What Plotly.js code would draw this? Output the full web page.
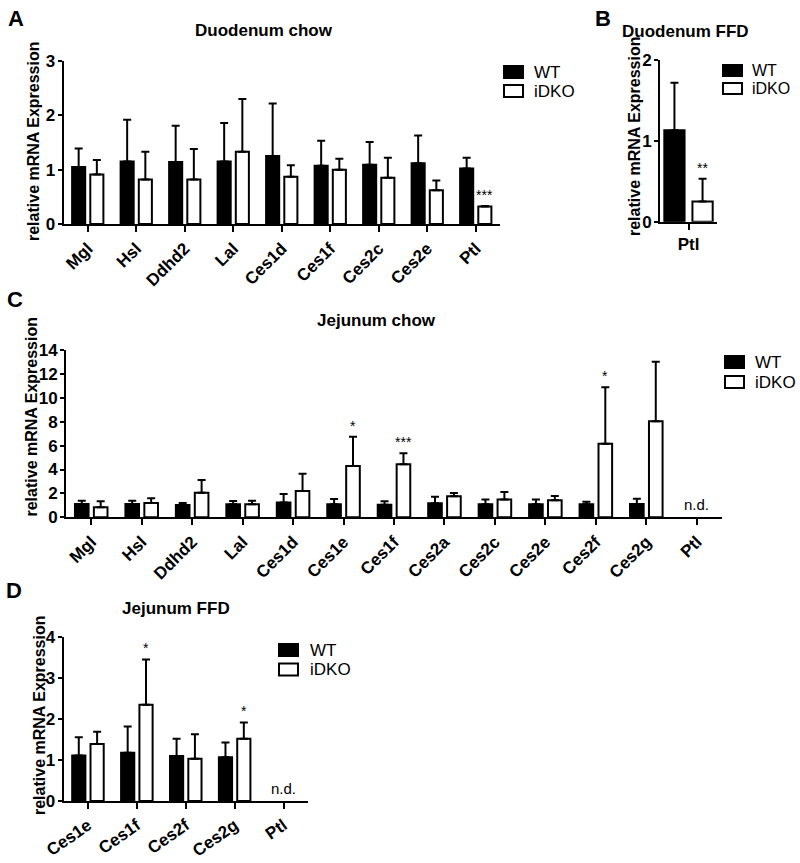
<!DOCTYPE html>
<html>
<head>
<meta charset="utf-8">
<script src="https://cdn.plot.ly/plotly-3.0.1.min.js"></script>
<style>html,body{margin:0;padding:0;background:#fff;}#chart{width:800px;height:863px;}</style>
</head>
<body>
<div id="chart"></div>
<script>
// ---------- DATA ----------
const catsA = ['Mgl','Hsl','Ddhd2','Lal','Ces1d','Ces1f','Ces2c','Ces2e','Ptl'];
const wtA = [1.05,1.15,1.14,1.15,1.25,1.07,1.09,1.12,1.02];
const wtErrA = [0.34,0.77,0.67,0.71,0.97,0.46,0.42,0.51,0.20];
const koA = [0.91,0.82,0.82,1.33,0.87,1.00,0.85,0.62,0.32];
const koErrA = [0.27,0.51,0.56,0.97,0.21,0.20,0.37,0.18,0.01];
const sigA = ['','','','','','','','','***'];

const catsB = ['Ptl'];
const wtB = [1.13];
const wtErrB = [0.59];
const koB = [0.25];
const koErrB = [0.28];
const sigB = ['**'];

const catsC = ['Mgl','Hsl','Ddhd2','Lal','Ces1d','Ces1e','Ces1f','Ces2a','Ces2c','Ces2e','Ces2f','Ces2g','Ptl'];
const wtC = [1.12,1.12,1.03,1.09,1.23,1.09,1.06,1.17,1.09,1.09,1.09,1.12,null];
const wtErrC = [0.27,0.27,0.17,0.28,0.72,0.44,0.28,0.56,0.39,0.39,0.22,0.44,null];
const koC = [0.84,1.20,2.06,1.09,2.20,4.29,4.43,1.76,1.48,1.42,6.16,8.03,null];
const koErrC = [0.50,0.39,1.06,0.30,1.45,2.46,0.92,0.28,0.64,0.36,4.72,4.99,null];
const sigC = ['','','','','','*','***','','','','*','',''];

const catsD = ['Ces1e','Ces1f','Ces2f','Ces2g','Ptl'];
const wtD = [1.11,1.18,1.10,1.07,null];
const wtErrD = [0.45,0.64,0.42,0.36,null];
const koD = [1.39,2.35,1.03,1.52,null];
const koErrD = [0.30,1.11,0.60,0.40,null];
const sigD = ['','*','','*',''];

const ndLabel = 'n.d.';
const groups = ['WT','iDKO'];
const groupFill = ['#000000','#ffffff'];
const titles = ['Duodenum chow','Duodenum FFD','Jejunum chow','Jejunum FFD'];
const letters = ['A','B','C','D'];
const yTitle = 'relative mRNA Expression';

// ---------- BUILD ----------
const FONT = 'Liberation Sans, Arial, sans-serif';
const W = 800, H = 863;
const px = v => v / W;
const py = v => 1 - v / H;

const panels = [
  {cats: catsA, wt: wtA, wtE: wtErrA, ko: koA, koE: koErrA, sig: sigA, ax: '', range: [0,3], dtick: 1,
   xd: [px(63.5), px(500)], yd: [py(224), py(61)], angle: -45, xr: null, nd: false, yfs: 16,
   yt: [34, 142], leg: {sx: 504, tx: 532, cy: [72, 91], h: 12}},
  {cats: catsB, wt: wtB, wtE: wtErrB, ko: koB, koE: koErrB, sig: sigB, ax: '2', range: [0,2], dtick: 1,
   xd: [px(660), px(717)], yd: [py(221.7), py(60)], angle: 0, xr: [-0.38,0.38], nd: false, yfs: 16,
   yt: [634, 137], leg: {sx: 723, tx: 750, cy: [70.5, 88.5], h: 11}},
  {cats: catsC, wt: wtC, wtE: wtErrC, ko: koC, koE: koErrC, sig: sigC, ax: '3', range: [0,14], dtick: 2,
   xd: [px(66), px(722)], yd: [py(517.3), py(350)], angle: -45, xr: null, nd: true, yfs: 16,
   yt: [30.5, 417], leg: {sx: 725, tx: 753, cy: [362, 382], h: 12}},
  {cats: catsD, wt: wtD, wtE: wtErrD, ko: koD, koE: koErrD, sig: sigD, ax: '4', range: [0,4], dtick: 1,
   xd: [px(63.5), px(308)], yd: [py(801), py(637.3)], angle: -35, xr: null, nd: true, yfs: 16,
   yt: [39, 716], leg: {sx: 279, tx: 308, cy: [650, 669.5], h: 12}}
];

const traces = [];
const layout = {
  width: W, height: H,
  margin: {l: 0, r: 0, t: 0, b: 0},
  paper_bgcolor: '#fff', plot_bgcolor: 'rgba(0,0,0,0)',
  barmode: 'group', bargap: 0.25, bargroupgap: 0.28,
  font: {family: FONT, color: '#000'},
  showlegend: false,
  annotations: [],
  shapes: [],
  hovermode: false
};

const titlePos = [[264, 31], [685, 32], [376, 320], [176, 608]];
const letterPos = [[16, 18], [603, 18], [15, 300], [14, 590]];

panels.forEach((p, k) => {
  const xa = 'x' + p.ax, ya = 'y' + p.ax;
  const errCommon = {type: 'data', symmetric: false, color: '#000', thickness: 2, width: 4};
  const vals = [p.wt, p.ko], errs = [p.wtE, p.koE];
  groups.forEach((g, gi) => {
    traces.push({
      type: 'bar', name: g, x: p.cats, y: vals[gi], xaxis: xa, yaxis: ya,
      marker: {color: groupFill[gi], line: {color: '#000', width: 2}},
      error_y: Object.assign({array: errs[gi], arrayminus: errs[gi].map(() => 0)}, errCommon),
      showlegend: false
    });
    // legend entry (drawn manually to match the compact original legend)
    layout.shapes.push({
      type: 'rect', xref: 'paper', yref: 'paper',
      x0: px(p.leg.sx), x1: px(p.leg.sx + 19),
      y0: py(p.leg.cy[gi] + p.leg.h / 2), y1: py(p.leg.cy[gi] - p.leg.h / 2),
      fillcolor: groupFill[gi], line: {color: '#000', width: 2}
    });
    layout.annotations.push({
      xref: 'paper', yref: 'paper', x: px(p.leg.tx), y: py(p.leg.cy[gi]),
      xanchor: 'left', yanchor: 'middle', showarrow: false, text: g,
      font: {family: FONT, size: k === 1 ? 16 : 17, color: '#000'}
    });
  });

  const xKey = 'xaxis' + p.ax, yKey = 'yaxis' + p.ax;
  layout[xKey] = {
    domain: p.xd, anchor: ya, type: 'category',
    showline: true, linewidth: 2, linecolor: '#000', mirror: false,
    ticks: 'outside', ticklen: 6, tickwidth: 2, tickcolor: '#000',
    showgrid: false, zeroline: false, tickangle: p.angle,
    tickfont: {family: FONT, size: 17, weight: 'bold', color: '#000'},
    range: p.xr ? p.xr : [-0.5, p.cats.length - 0.5],
    fixedrange: true
  };
  layout[yKey] = {
    domain: p.yd, anchor: xa, range: p.range, dtick: p.dtick,
    showline: true, linewidth: 2, linecolor: '#000',
    ticks: 'outside', ticklen: 4, tickwidth: 2, tickcolor: '#000',
    ticklabelstandoff: -1,
    showgrid: false, zeroline: false,
    tickfont: {family: FONT, size: 17, weight: 'bold', color: '#000'},
    fixedrange: true
  };

  // y-axis title
  layout.annotations.push({
    xref: 'paper', yref: 'paper', x: px(p.yt[0]), y: py(p.yt[1]),
    xanchor: 'center', yanchor: 'middle', showarrow: false, text: yTitle, textangle: -90,
    font: {family: FONT, size: p.yfs, weight: 'bold', color: '#000'}
  });
  // panel title
  layout.annotations.push({
    xref: 'paper', yref: 'paper', x: px(titlePos[k][0]), y: py(titlePos[k][1]),
    xanchor: 'center', yanchor: 'middle', showarrow: false, text: titles[k],
    font: {family: FONT, size: 17, weight: 'bold', color: '#000'}
  });
  // panel letter
  layout.annotations.push({
    xref: 'paper', yref: 'paper', x: px(letterPos[k][0]), y: py(letterPos[k][1]),
    xanchor: 'center', yanchor: 'middle', showarrow: false, text: letters[k],
    font: {family: FONT, size: 22, weight: 'bold', color: '#000'}
  });
  // significance marks above iDKO bars
  p.sig.forEach((s, i) => {
    if (!s) return;
    layout.annotations.push({
      xref: xa, yref: ya, x: i + 0.1875, y: p.ko[i] + p.koE[i],
      xanchor: 'center', yanchor: 'bottom', showarrow: false, text: s, yshift: 1,
      font: {family: FONT, size: 14, color: '#000'}
    });
  });
  // not detected
  if (p.nd) {
    layout.annotations.push({
      xref: xa, yref: ya, x: p.cats.length - 1, y: 0,
      xanchor: 'center', yanchor: 'bottom', showarrow: false, text: ndLabel, yshift: 2,
      font: {family: FONT, size: 15, color: '#000'}
    });
  }
});

Plotly.newPlot('chart', traces, layout, {staticPlot: true, displayModeBar: false});
</script>
</body>
</html>
